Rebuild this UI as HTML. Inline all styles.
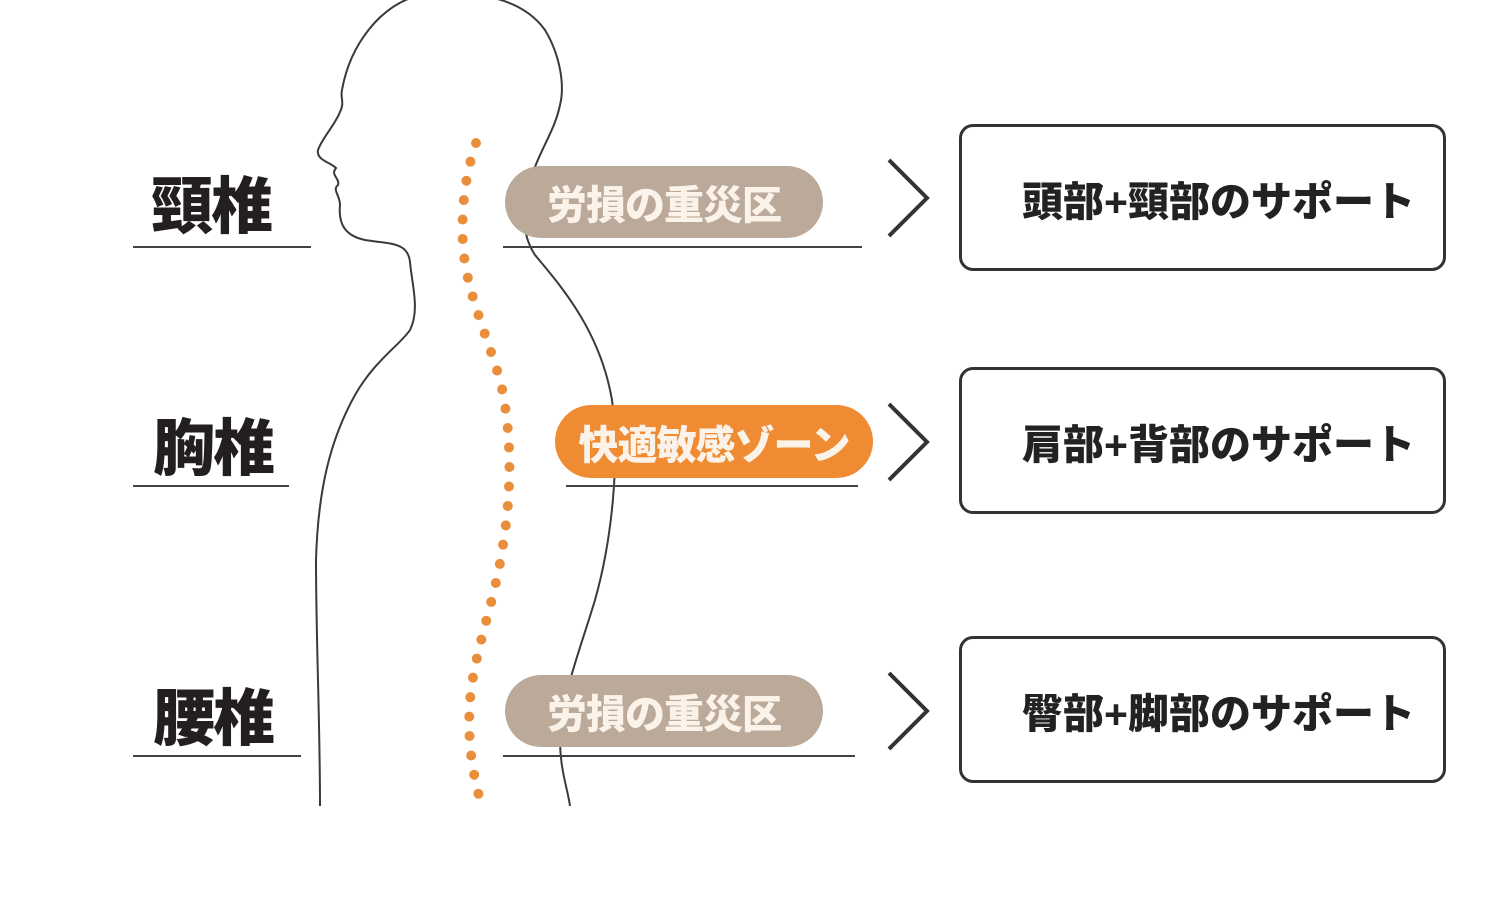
<!DOCTYPE html>
<html><head><meta charset="utf-8"><style>
body{margin:0;width:1500px;height:898px;background:#fff;position:relative;overflow:hidden;font-family:"Liberation Sans","Noto Sans CJK JP",sans-serif}
.a{position:absolute}
.lab{font-size:62px;font-weight:900;color:#231f1f;letter-spacing:-2px;line-height:1}
.ln{height:2px;background:#444}
.pill{border-radius:37px;color:#fbf3ea;font-size:40px;font-weight:900;display:flex;align-items:center;justify-content:center;letter-spacing:-1px}
.box{border:3px solid #333;border-radius:14px;box-sizing:border-box;font-size:41px;font-weight:900;color:#222;display:flex;align-items:center;padding-left:60px;letter-spacing:0px}
</style></head><body>
<svg class="a" style="left:0;top:0" width="1500" height="898">
<path d="M420,-5 C380,5 350,45 342,90 C340,98 345,102 340,112 C335,125 322,138 318,150 C316,160 330,162 336,168 C330,175 340,178 338,185 C332,190 340,195 340,205 C338,225 346,236 365,240 C390,244 408,242 410,262 C412,285 420,310 410,330 C400,345 375,360 355,395 C330,440 318,490 316,560 C316,640 320,720 320,806" fill="none" stroke="#3a3a3a" stroke-width="2"/>
<path d="M420,-5 C470,-10 520,-5 545,30 C560,55 565,85 560,105 C555,130 540,150 532,175 C522,205 520,232 535,255 C560,285 600,330 612,400 C620,460 612,540 595,600 C580,650 560,700 560,740 C560,770 568,790 570,806" fill="none" stroke="#3a3a3a" stroke-width="2"/>
<path d="M476,143 C465,175 461,210 463,245 C466,290 485,330 500,380 C512,430 512,490 503,545 C495,600 478,640 471,690 C466,735 472,770 480,800" fill="none" stroke="#e98e3b" stroke-width="10" stroke-linecap="round" stroke-dasharray="0 19.5"/>
<g fill="none" stroke="#333" stroke-width="4">
<path d="M889,160 L927,198 L889,236"/>
<path d="M889,404 L927,442 L889,480"/>
<path d="M889,673 L927,711 L889,749"/>
</g>
</svg>
<div class="a lab" style="left:151px;top:177px">頸椎</div>
<div class="a ln" style="left:133px;top:246px;width:178px"></div>
<div class="a lab" style="left:153px;top:419px">胸椎</div>
<div class="a ln" style="left:133px;top:485px;width:156px"></div>
<div class="a lab" style="left:153px;top:689px">腰椎</div>
<div class="a ln" style="left:133px;top:755px;width:168px"></div>

<div class="a pill" style="left:505px;top:166px;width:318px;height:72px;background:#bba999">労損の重災区</div>
<div class="a ln" style="left:503px;top:246px;width:359px"></div>
<div class="a pill" style="left:555px;top:405px;width:318px;height:73px;background:#ef8c33">快適敏感ゾーン</div>
<div class="a ln" style="left:566px;top:485px;width:292px"></div>
<div class="a pill" style="left:505px;top:675px;width:318px;height:72px;background:#bba999">労損の重災区</div>
<div class="a ln" style="left:503px;top:755px;width:352px"></div>

<div class="a box" style="left:959px;top:124px;width:487px;height:147px">頭部+頸部のサポート</div>
<div class="a box" style="left:959px;top:367px;width:487px;height:147px">肩部+背部のサポート</div>
<div class="a box" style="left:959px;top:636px;width:487px;height:147px">臀部+脚部のサポート</div>
</body></html>
